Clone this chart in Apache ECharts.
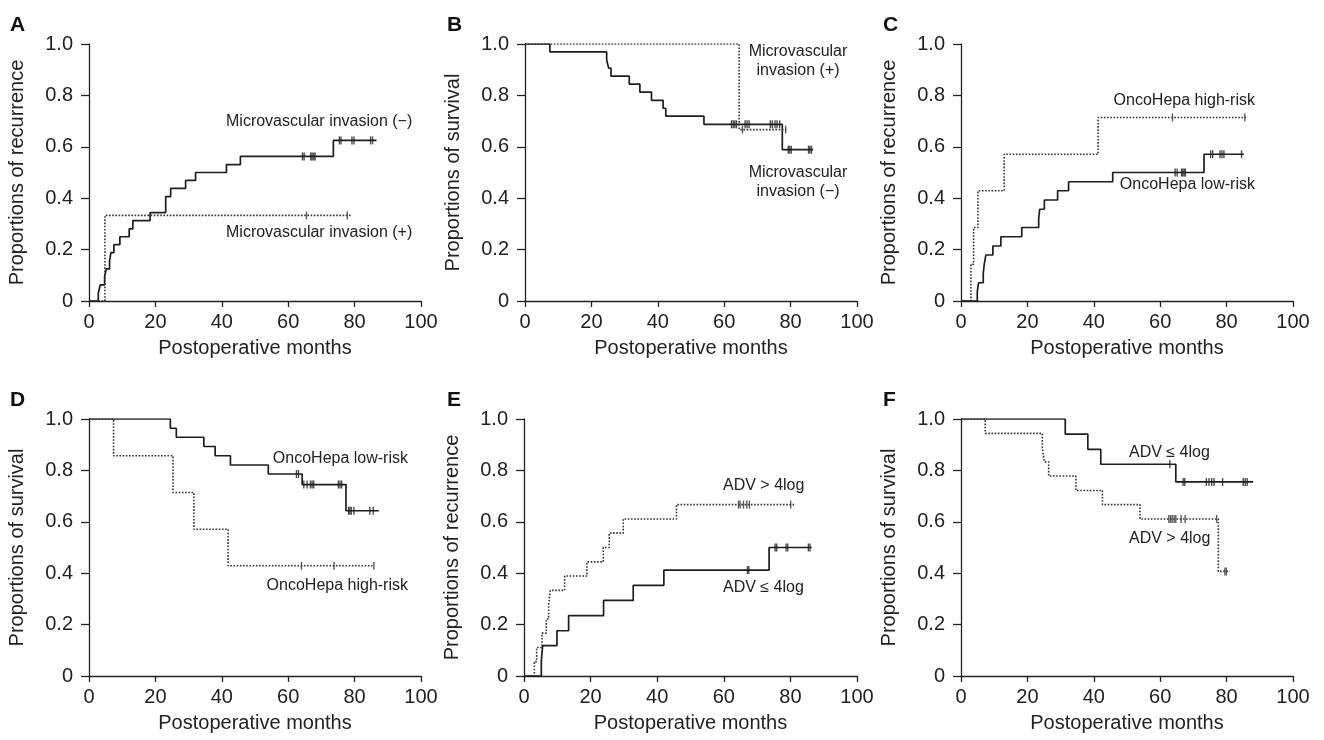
<!DOCTYPE html>
<html><head><meta charset="utf-8">
<script src="https://cdn.jsdelivr.net/npm/echarts@6/dist/echarts.min.js"></script>
<style>html,body{margin:0;padding:0;background:#fff}#c{width:1324px;height:740px}</style>
</head><body><div id="c"></div>
<script>
// ---- tick / label data ----
const xTicks = [0, 20, 40, 60, 80, 100];
const yTicks = [0, 0.2, 0.4, 0.6, 0.8, 1.0];
const panelLetters = ['A', 'B', 'C', 'D', 'E', 'F'];
const yNames = ['Proportions of recurrence', 'Proportions of survival', 'Proportions of recurrence',
                'Proportions of survival', 'Proportions of recurrence', 'Proportions of survival'];
const xName = 'Postoperative months';

// ---- Panel A: recurrence by microvascular invasion ----
const aNegT = [0, 2.8, 3.4, 4.7, 5.2, 6.2, 6.6, 7.5, 9.3, 12.1, 13.2, 18.4, 23.1, 24.6, 29.1, 32.1, 41.4, 45.6, 73.6, 86.6];
const aNegS = [0, 0.031, 0.063, 0.094, 0.125, 0.156, 0.188, 0.219, 0.25, 0.281, 0.313, 0.344, 0.406, 0.438, 0.469, 0.5, 0.531, 0.5625, 0.625, 0.625];
const aNegCens = [64.3, 64.8, 66.8, 67.2, 67.7, 68.1, 75.4, 75.9, 79.2, 79.8, 84.8, 85.4];
const aPosT = [0, 4.8, 78.8];
const aPosS = [0, 0.333, 0.333];
const aPosCens = [65.5, 77.8];

// ---- Panel B: survival by microvascular invasion ----
const bNegT = [0, 7.5, 24.6, 25.2, 25.9, 31.4, 34.6, 38.1, 41.6, 42.4, 53.9, 77.5, 86.8];
const bNegS = [1, 0.969, 0.938, 0.906, 0.875, 0.844, 0.813, 0.781, 0.75, 0.719, 0.6875, 0.589, 0.589];
const bNegCens = [62.2, 62.7, 63.2, 63.7, 66.3, 66.9, 67.5, 73.9, 74.5, 75.3, 75.9, 76.7, 79.3, 79.7, 80.2, 85.4, 85.8, 86.3];
const bPosT = [0, 64.5, 78.7];
const bPosS = [1, 0.667, 0.667];
const bPosCens = [65.5, 78.5];

// ---- Panel C: recurrence by OncoHepa ----
const cHighT = [0, 3.0, 3.8, 5.1, 13.0, 41.3, 85.8];
const cHighS = [0, 0.143, 0.286, 0.429, 0.571, 0.714, 0.714];
const cHighCens = [63.7, 85.5];
const cLowT = [0, 4.9, 5.3, 6.7, 7.0, 7.5, 9.6, 12.0, 18.3, 23.4, 23.7, 25.1, 29.1, 32.4, 45.7, 73.2, 85.2];
const cLowS = [0, 0.036, 0.071, 0.107, 0.143, 0.179, 0.214, 0.25, 0.286, 0.321, 0.357, 0.393, 0.429, 0.464, 0.5, 0.571, 0.571];
const cLowCens = [64.5, 65.1, 66.4, 66.8, 67.2, 67.6, 75.2, 75.8, 78.0, 78.6, 79.2, 84.5];

// ---- Panel D: survival by OncoHepa ----
const dLowT = [0, 24.5, 26.3, 34.6, 38.0, 42.6, 54.0, 64.2, 77.4, 87.3];
const dLowS = [1, 0.964, 0.929, 0.893, 0.857, 0.821, 0.786, 0.745, 0.643, 0.643];
const dLowCens = [62.5, 63.1, 64.7, 65.7, 66.7, 67.2, 67.7, 75.1, 75.6, 76.1, 78.2, 78.6, 79.0, 79.8, 84.6, 85.6];
const dHighT = [0, 7.4, 25.3, 31.6, 41.9, 85.9];
const dHighS = [1, 0.857, 0.714, 0.571, 0.429, 0.429];
const dHighCens = [64.0, 73.8, 85.8];

// ---- Panel E: recurrence by ADV ----
const eHighT = [0, 3.1, 3.8, 5.4, 6.7, 7.4, 7.9, 12.2, 18.9, 23.8, 25.6, 29.8, 45.8, 81.1];
const eHighS = [0, 0.056, 0.111, 0.167, 0.222, 0.278, 0.333, 0.389, 0.444, 0.5, 0.556, 0.611, 0.667, 0.667];
const eHighCens = [64.4, 64.9, 65.9, 66.9, 67.7, 80.1];
const eLowT = [0, 5.2, 5.6, 9.9, 13.4, 23.9, 32.8, 42.0, 73.6, 86.4];
const eLowS = [0, 0.059, 0.118, 0.176, 0.235, 0.294, 0.353, 0.412, 0.5, 0.5];
const eLowCens = [67.1, 67.5, 75.4, 75.9, 78.7, 79.2, 85.4, 85.9];

// ---- Panel F: survival by ADV ----
const fLowT = [0, 31.4, 38.2, 42.1, 64.7, 88.0];
const fLowS = [1, 0.941, 0.882, 0.824, 0.755, 0.755];
const fLowCens = [62.9, 66.9, 67.4, 73.9, 74.7, 75.5, 76.2, 78.8, 85.0, 85.6, 86.2];
const fHighT = [0, 7.3, 24.5, 25.1, 26.4, 34.6, 42.6, 53.9, 77.5, 81.0];
const fHighS = [1, 0.944, 0.889, 0.833, 0.778, 0.722, 0.667, 0.611, 0.407, 0.407];
const fHighCens = [62.6, 63.1, 63.6, 64.2, 64.7, 66.3, 67.5, 77.0, 79.5, 79.9];

// ---- curve labels ----
const labelsA = ['Microvascular invasion (\u2212)', 'Microvascular invasion (+)'];
const labelsB = ['Microvascular\ninvasion (+)', 'Microvascular\ninvasion (\u2212)'];
const labelsC = ['OncoHepa high-risk', 'OncoHepa low-risk'];
const labelsD = ['OncoHepa low-risk', 'OncoHepa high-risk'];
const labelsE = ['ADV > 4log', 'ADV \u2264 4log'];
const labelsF = ['ADV \u2264 4log', 'ADV > 4log'];

// ---------------------------------------------------------------
const FONT = '"Liberation Sans", Arial, Helvetica, sans-serif';
const INK = '#222';
const curves = [
  {p: 0, t: aNegT, s: aNegS, c: aNegCens, dotted: false},
  {p: 0, t: aPosT, s: aPosS, c: aPosCens, dotted: true},
  {p: 1, t: bNegT, s: bNegS, c: bNegCens, dotted: false},
  {p: 1, t: bPosT, s: bPosS, c: bPosCens, dotted: true},
  {p: 2, t: cHighT, s: cHighS, c: cHighCens, dotted: true},
  {p: 2, t: cLowT, s: cLowS, c: cLowCens, dotted: false},
  {p: 3, t: dLowT, s: dLowS, c: dLowCens, dotted: false},
  {p: 3, t: dHighT, s: dHighS, c: dHighCens, dotted: true},
  {p: 4, t: eHighT, s: eHighS, c: eHighCens, dotted: true},
  {p: 4, t: eLowT, s: eLowS, c: eLowCens, dotted: false},
  {p: 5, t: fLowT, s: fLowS, c: fLowCens, dotted: false},
  {p: 5, t: fHighT, s: fHighS, c: fHighCens, dotted: true}
];
function valueAt(ts, ss, t) {
  let v = ss[0];
  for (let i = 0; i < ts.length; i++) { if (ts[i] <= t) v = ss[i]; }
  return v;
}
const grids = [
  {left: 89, top: 44, width: 332, height: 257},
  {left: 525, top: 44, width: 332, height: 257},
  {left: 961, top: 44, width: 332, height: 257},
  {left: 89, top: 419, width: 332, height: 257},
  {left: 524, top: 419, width: 333, height: 257},
  {left: 961, top: 419, width: 332, height: 257}
];
const xAxes = grids.map((g, i) => ({
  gridIndex: i, type: 'value', min: xTicks[0], max: xTicks[xTicks.length - 1], interval: xTicks[1] - xTicks[0],
  name: xName, nameLocation: 'middle', nameGap: 37,
  nameTextStyle: {fontSize: 20, color: INK, fontFamily: FONT},
  axisLine: {lineStyle: {color: INK, width: 1.3}},
  axisTick: {length: 6, lineStyle: {color: INK, width: 1.3}},
  axisLabel: {fontSize: 20, color: INK, fontFamily: FONT, margin: 11},
  splitLine: {show: false}
}));
const yAxes = grids.map((g, i) => ({
  gridIndex: i, type: 'value', min: yTicks[0], max: yTicks[yTicks.length - 1], interval: 0.2,
  name: yNames[i], nameLocation: 'middle', nameGap: 62, nameRotate: 90,
  nameTextStyle: {fontSize: 20, color: INK, fontFamily: FONT},
  axisLine: {lineStyle: {color: INK, width: 1.3}},
  axisTick: {length: 8, lineStyle: {color: INK, width: 1.3}},
  axisLabel: {fontSize: 20, color: INK, fontFamily: FONT, margin: 16,
    formatter: v => (v === 0 ? '0' : v.toFixed(1))},
  splitLine: {show: false}
}));
const series = [];
curves.forEach(cv => {
  const col = cv.dotted ? '#333' : '#1e1e1e';
  series.push({
    type: 'line', xAxisIndex: cv.p, yAxisIndex: cv.p, step: 'end', symbol: 'none',
    data: cv.t.map((t, i) => [t, cv.s[i]]),
    lineStyle: {color: col, width: cv.dotted ? 1.6 : 1.7, type: cv.dotted ? 'dotted' : 'solid'},
    animation: false, silent: true, z: 3
  });
  series.push({
    type: 'scatter', xAxisIndex: cv.p, yAxisIndex: cv.p, symbol: 'rect', symbolSize: [1.4, 8],
    data: cv.c.map(t => [t, valueAt(cv.t, cv.s, t)]),
    itemStyle: {color: col}, animation: false, silent: true, z: 4
  });
});
const letterPos = [[10, 25], [447, 25], [883, 25], [10, 400], [447, 400], [883, 400]];
const graphics = panelLetters.map((L, i) => ({
  type: 'text', left: letterPos[i][0], top: letterPos[i][1] - 10,
  style: {text: L, font: 'bold 21px ' + FONT, fill: '#111'}
}));
function ann(text, x, y, align) {
  return {type: 'text', x: x, y: y,
    style: {text: text, fontSize: 16, fontFamily: FONT, fill: INK, align: align, verticalAlign: 'middle', lineHeight: 19}};
}
graphics.push(
  ann(labelsA[0], 226, 122, 'left'), ann(labelsA[1], 226, 233, 'left'),
  ann(labelsB[0], 798, 61, 'center'), ann(labelsB[1], 798, 182.5, 'center'),
  ann(labelsC[0], 1255, 101, 'right'), ann(labelsC[1], 1255, 185, 'right'),
  ann(labelsD[0], 408, 459, 'right'), ann(labelsD[1], 408, 586, 'right'),
  ann(labelsE[0], 723, 486, 'left'), ann(labelsE[1], 723, 587.5, 'left'),
  ann(labelsF[0], 1129, 452.5, 'left'), ann(labelsF[1], 1129, 539, 'left')
);
const chart = echarts.init(document.getElementById('c'), null, {renderer: 'canvas'});
chart.setOption({
  backgroundColor: '#fff', animation: false,
  textStyle: {fontFamily: FONT},
  grid: grids, xAxis: xAxes, yAxis: yAxes, series: series, graphic: graphics
});
</script></body></html>
